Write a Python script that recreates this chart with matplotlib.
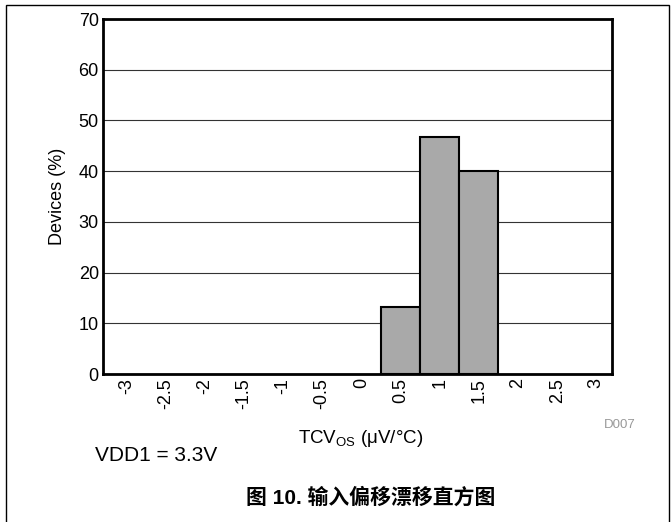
import matplotlib.pyplot as plt
import matplotlib.patches as patches

plt.rcParams['font.family'] = ['Liberation Sans', 'DejaVu Sans']

# histogram bins (uV/C) and share of devices (%)
bin_centers = [0.5, 1.0, 1.5]
device_pct = [13.3, 46.7, 40.0]
tick_values = [-3, -2.5, -2, -1.5, -1, -0.5, 0, 0.5, 1, 1.5, 2, 2.5, 3]
tick_labels = ['-3', '-2.5', '-2', '-1.5', '-1', '-0.5', '0', '0.5', '1', '1.5', '2', '2.5', '3']

fig = plt.figure(figsize=(6.71, 5.22), dpi=100)
ax = fig.add_axes([0.1535, 0.2835, 0.7585, 0.68])

ax.bar(bin_centers, device_pct, width=0.5, color='#a9a9a9',
       edgecolor='black', linewidth=1.5, zorder=3)

ax.set_xlim(-3.3, 3.2)
ax.set_ylim(0, 70)
ax.set_yticks(range(0, 71, 10))
ax.set_xticks(tick_values)
ax.set_xticklabels(tick_labels, rotation=90, fontsize=13)
ax.tick_params(axis='y', labelsize=13, length=0, pad=3)
ax.tick_params(axis='x', length=0, pad=3)
ax.grid(axis='y', color='#333333', linewidth=0.8, zorder=0)
for side in ax.spines.values():
    side.set_linewidth(2)

ax.set_ylabel('Devices (%)', fontsize=13)
ax.yaxis.set_label_coords(-0.072, 0.5)
ax.set_xlabel(r'TCV$_{\mathregular{OS}}$ ($\mathregular{\mu}$V/°C)', fontsize=13.5)
ax.xaxis.set_label_coords(0.507, -0.151)

fig.text(0.948, 0.186, 'D007', fontsize=9.5, color='#999999', ha='right', va='center')
fig.text(0.142, 0.128, 'VDD1 = 3.3V', fontsize=15, ha='left', va='center')
fig.text(0.553, 0.046, '图 10. 输入偏移漂移直方图', fontsize=15, fontweight='bold',
         ha='center', va='center', family=['Liberation Sans', 'Noto Sans CJK SC'])

# page frame around the figure
frame = patches.Rectangle((0.009, -0.05), 0.988, 1.04, transform=fig.transFigure,
                          fill=False, edgecolor='black', linewidth=1)
fig.patches.append(frame)

fig.savefig('out.png', dpi=100)
